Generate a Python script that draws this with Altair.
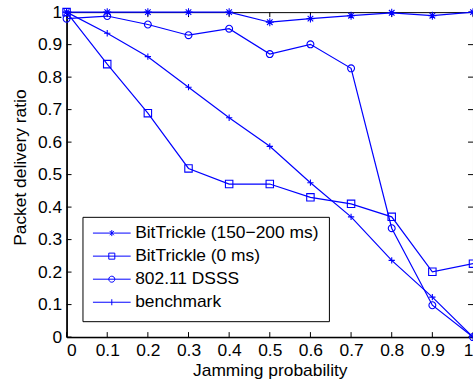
import altair as alt
import pandas as pd

# ---- data ----
jam_prob = [0.0, 0.1, 0.2, 0.3, 0.4, 0.5, 0.6, 0.7, 0.8, 0.9, 1.0]
bittrickle_150_200 = [1.0, 1.0, 1.0, 1.0, 1.0, 0.969, 0.98, 0.989, 0.998, 0.989, 1.0]
bittrickle_0 = [1.0, 0.84, 0.689, 0.519, 0.471, 0.471, 0.43, 0.41, 0.37, 0.201, 0.226]
dsss = [0.98, 0.988, 0.962, 0.929, 0.949, 0.871, 0.901, 0.827, 0.335, 0.098, 0.0]
benchmark = [1.0, 0.935, 0.863, 0.769, 0.675, 0.587, 0.475, 0.37, 0.236, 0.123, 0.0]

series_names = ["BitTrickle (150\u2212200 ms)", "BitTrickle (0 ms)", "802.11 DSSS", "benchmark"]
series_values = [bittrickle_150_200, bittrickle_0, dsss, benchmark]

x_ticks = [0.0, 0.1, 0.2, 0.3, 0.4, 0.5, 0.6, 0.7, 0.8, 0.9, 1.0]
y_ticks = [0.0, 0.1, 0.2, 0.3, 0.4, 0.5, 0.6, 0.7, 0.8, 0.9, 1.0]

rows = []
for name, vals in zip(series_names, series_values):
    for xv, yv in zip(jam_prob, vals):
        rows.append({"series": name, "x": xv, "y": yv})
df = pd.DataFrame(rows)
xt_df = pd.DataFrame({"x": x_ticks})
yt_df = pd.DataFrame({"y": y_ticks})

W, H = 409, 327
LEFT, TOP = 67, 11
BLUE = "#0000ff"
FONT = "Liberation Sans"
FS = 17.5

xscale = alt.Scale(domain=[0, 1], nice=False, zero=False)
yscale = alt.Scale(domain=[0, 1], nice=False, zero=False)
xaxis = alt.Axis(values=x_ticks, format="~g", title="Jamming probability",
                 labelPadding=4.5, titleY=25, titleBaseline="top")
yaxis = alt.Axis(values=y_ticks, format="~g", title="Packet delivery ratio",
                 labelPadding=5, titleX=-46, titleY=156, titleBaseline="middle",
                 titleAlign="center", titleAngle=-90)

def X(field="x"):
    return alt.X(field, type="quantitative", scale=xscale, axis=xaxis)

def Y(field="y"):
    return alt.Y(field, type="quantitative", scale=yscale, axis=yaxis)

# marker shapes
star_path = "M0,-1L0,1M-1,0L1,0M-0.7,-0.7L0.7,0.7M-0.7,0.7L0.7,-0.7"
plus_path = "M-1,0L1,0M0,-1L0,1"
m = 0.16
leg_star = (f"M-1,0L1,0M0,-{m}L0,{m}M-{m*0.7:.3f},-{m*0.7:.3f}L{m*0.7:.3f},{m*0.7:.3f}"
            f"M-{m*0.7:.3f},{m*0.7:.3f}L{m*0.7:.3f},-{m*0.7:.3f}")
leg_square = f"M-1,0L1,0M-{m},-{m}L{m},-{m}L{m},{m}L-{m},{m}Z"
leg_circle = f"M-1,0L1,0M{m},0A{m},{m},0,1,1,-{m},0A{m},{m},0,1,1,{m},0"
leg_plus = f"M-1,0L1,0M0,-{m}L0,{m}"

lines = alt.Chart(df).mark_line(color=BLUE, strokeWidth=1.2, clip=False).encode(
    x=X(), y=Y(), detail="series:N", order="x:Q"
)

markers = alt.Chart(df).mark_point(filled=False, color=BLUE, strokeWidth=1.1, opacity=1).encode(
    x=X(), y=Y(),
    shape=alt.Shape("series:N", scale=alt.Scale(domain=series_names,
                    range=[star_path, "square", "circle", plus_path]), legend=None),
    size=alt.Size("series:N", scale=alt.Scale(domain=series_names, range=[64, 40, 55, 81]),
                  legend=None),
)

legend_layer = alt.Chart(df).transform_filter("datum.x < 0").mark_point(
    filled=False, color=BLUE, strokeWidth=1, opacity=1
).encode(
    x=X(), y=Y(),
    shape=alt.Shape("series:N",
                    scale=alt.Scale(domain=series_names,
                                    range=[leg_star, leg_square, leg_circle, leg_plus]),
                    legend=alt.Legend(title=None, orient="none", legendX=83 - LEFT,
                                      legendY=217 - TOP,
                                      strokeColor="black", fillColor="white", padding=10,
                                      symbolSize=1444, symbolStrokeWidth=1,
                                      symbolStrokeColor=BLUE, symbolFillColor="transparent",
                                      symbolOpacity=1, labelFontSize=FS, labelFont=FONT,
                                      labelColor="black", labelOffset=4,
                                      clipHeight=12.7, rowPadding=5.2, labelLimit=400)),
)

tick_len = 5
bottom_ticks = alt.Chart(xt_df).mark_rule(color="black", strokeWidth=1).encode(
    x=X(), y=alt.value(H), y2=alt.value(H - tick_len))
top_ticks = alt.Chart(xt_df).mark_rule(color="black", strokeWidth=1).encode(
    x=X(), y=alt.value(0), y2=alt.value(tick_len))
left_ticks = alt.Chart(yt_df).mark_rule(color="black", strokeWidth=1).encode(
    y=Y(), x=alt.value(0), x2=alt.value(tick_len))
right_ticks = alt.Chart(yt_df).mark_rule(color="black", strokeWidth=1).encode(
    y=Y(), x=alt.value(W), x2=alt.value(W - tick_len))

chart = alt.layer(
    bottom_ticks, top_ticks, left_ticks, right_ticks, lines, markers, legend_layer
).resolve_scale(shape="independent", size="independent").properties(
    width=W, height=H,
    autosize=alt.AutoSizeParams(type="none"),
    padding={"left": LEFT, "top": TOP, "right": 0, "bottom": 383 - TOP - H},
    background="white",
).configure_view(
    stroke="black", strokeWidth=1
).configure_axis(
    grid=False, ticks=False, domainColor="black", domainWidth=1.6,
    labelFont=FONT, labelFontSize=FS, labelColor="black",
    titleFont=FONT, titleFontSize=FS, titleFontWeight="normal", titleColor="black",
).configure_legend(
    cornerRadius=0, strokeWidth=1
)

chart.save("out.html", embed_options={"renderer": "svg", "actions": False})
